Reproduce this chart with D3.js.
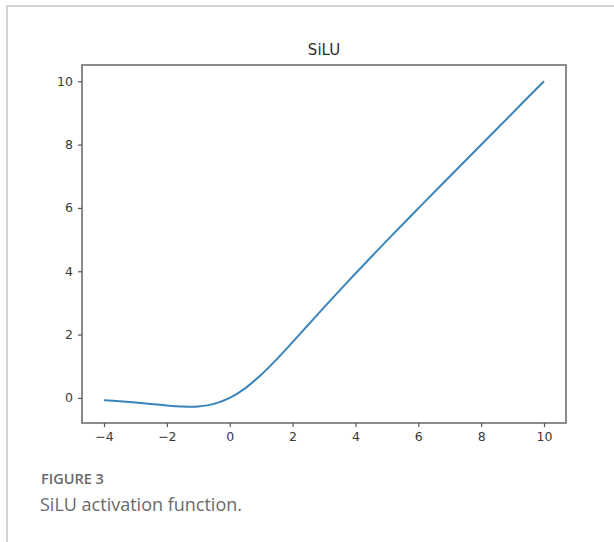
<!DOCTYPE html>
<html>
<head>
<meta charset="utf-8">
<script src="https://cdn.jsdelivr.net/npm/d3@7"></script>
<style>
  body { margin: 0; background: #fff; }
  svg { display: block; }
</style>
</head>
<body>
<div id="chart"></div>
<script>
// values
var xs = [-4, -3.5, -3, -2.5, -2, -1.5, -1.25, -1, -0.5, 0, 0.5, 1, 1.5, 2, 2.5, 3, 3.5, 4, 5, 6, 7, 8, 9, 10];
var ys = [-0.072, -0.103, -0.142, -0.189, -0.238, -0.274, -0.279, -0.269, -0.189, 0, 0.311, 0.731, 1.226, 1.762, 2.311, 2.858, 3.397, 3.928, 4.967, 5.985, 6.994, 7.997, 8.999, 10.0];
var xTicks = [-4, -2, 0, 2, 4, 6, 8, 10];
var yTicks = [0, 2, 4, 6, 8, 10];
var title = "SiLU";
var figLabel = "FIGURE 3";
var caption = "SiLU activation function.";

var W = 614, H = 542;
var plot = { left: 82, right: 566, top: 65, bottom: 423 };

var svg = d3.select("#chart")
    .append("svg")
    .attr("width", W)
    .attr("height", H);

// page frame (top + left rule)
svg.append("path")
    .attr("d", "M7,542V6H614")
    .attr("fill", "none")
    .attr("stroke", "#d2d2d2")
    .attr("stroke-width", 2);

// scales
var x = d3.scaleLinear().domain([-4.7, 10.7]).range([plot.left, plot.right]);
var y = d3.scaleLinear().domain([-0.792, 10.514]).range([plot.bottom, plot.top]);

var data = xs.map(function (d, i) {
    return { x: d, y: ys[i] };
});

// the curve
var line = d3.line()
    .x(function (d) { return x(d.x); })
    .y(function (d) { return y(d.y); })
    .curve(d3.curveCatmullRom);

svg.append("path")
    .datum(data)
    .attr("d", line)
    .attr("fill", "none")
    .attr("stroke", "#3b84ba")
    .attr("stroke-width", 2);

// axes
var xAxis = svg.append("g")
    .attr("transform", "translate(0," + plot.bottom + ")")
    .call(d3.axisBottom(x).tickValues(xTicks).tickSize(4).tickPadding(5)
        .tickFormat(function (d) { return d < 0 ? "\u2212" + Math.abs(d) : d; }));

var yAxis = svg.append("g")
    .attr("transform", "translate(" + plot.left + ",0)")
    .call(d3.axisLeft(y).tickValues(yTicks).tickSize(4).tickPadding(5));

[xAxis, yAxis].forEach(function (g) {
    g.select(".domain").remove();
    g.selectAll("line").attr("stroke", "#555").attr("stroke-width", 1.2);
    g.selectAll("text")
        .attr("fill", "#3a3a3a")
        .attr("font-family", "DejaVu Sans")
        .attr("font-size", 12.5);
});

// spines
svg.append("rect")
    .attr("x", plot.left)
    .attr("y", plot.top)
    .attr("width", plot.right - plot.left)
    .attr("height", plot.bottom - plot.top)
    .attr("fill", "none")
    .attr("stroke", "#5a5a5a")
    .attr("stroke-width", 1.4);

// title
svg.append("text")
    .attr("x", (plot.left + plot.right) / 2)
    .attr("y", 55)
    .attr("text-anchor", "middle")
    .attr("font-family", "DejaVu Sans")
    .attr("font-size", 15)
    .attr("fill", "#2e2e2e")
    .text(title);

// figure caption
svg.append("text")
    .attr("x", 41)
    .attr("y", 484)
    .attr("font-family", "Open Sans")
    .attr("font-weight", 600)
    .attr("font-size", 14.5)
    .attr("fill", "#6a6a6a")
    .text(figLabel);

svg.append("text")
    .attr("x", 40)
    .attr("y", 511)
    .attr("font-family", "Open Sans")
    .attr("font-size", 18)
    .attr("fill", "#6a6a6a")
    .text(caption);
</script>
</body>
</html>
